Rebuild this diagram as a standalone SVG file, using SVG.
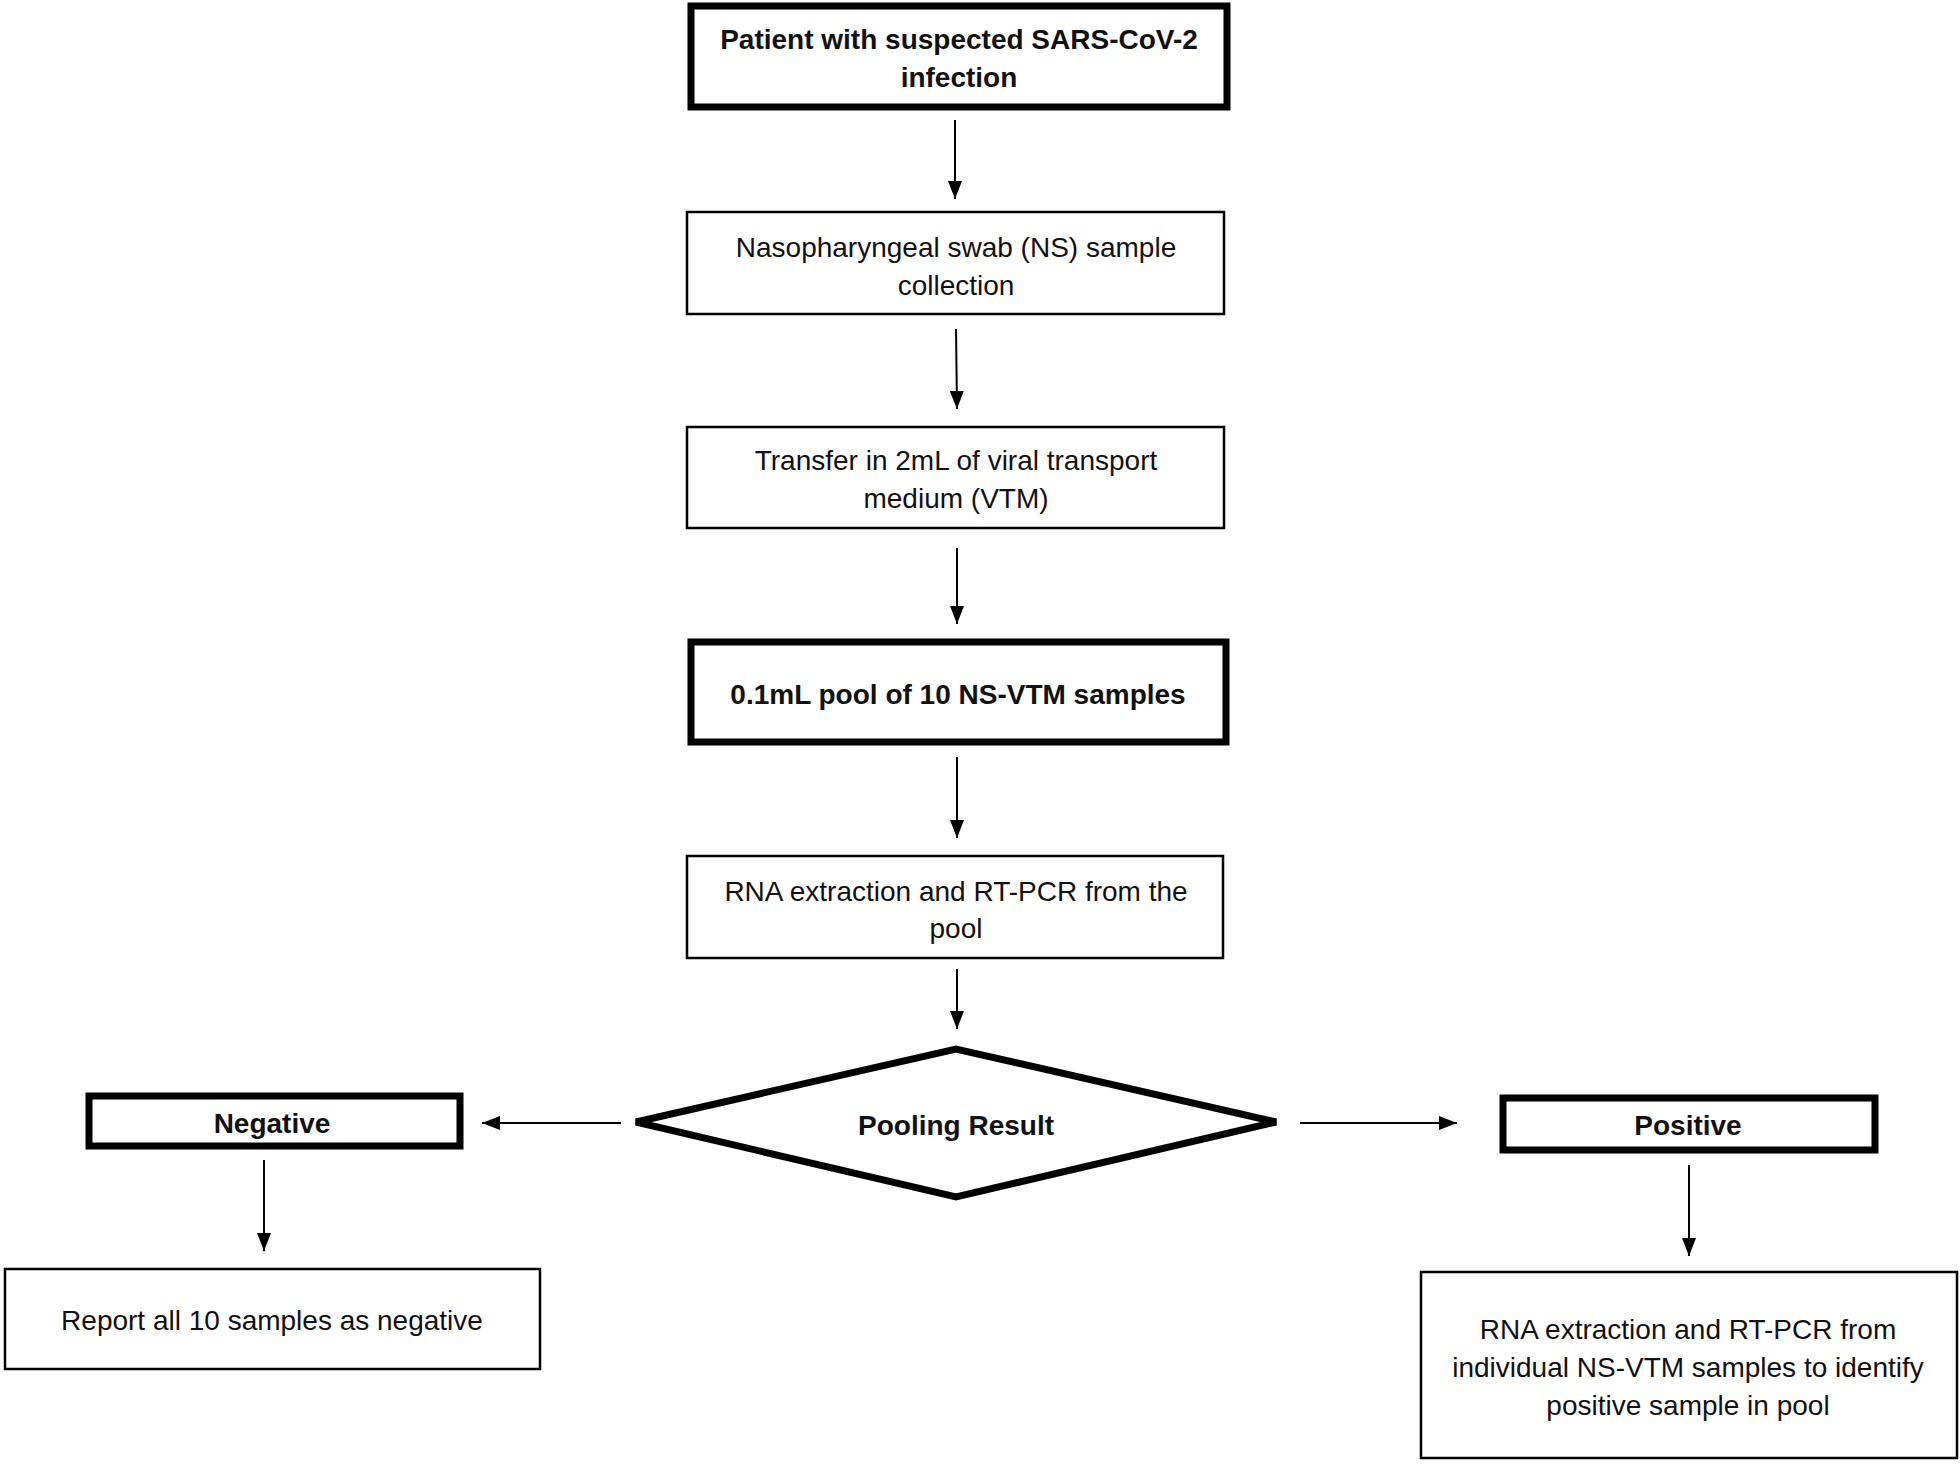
<svg xmlns="http://www.w3.org/2000/svg" width="1960" height="1464" viewBox="0 0 1960 1464">
<defs>
<marker id="ah" markerWidth="18" markerHeight="14" refX="18" refY="7" orient="auto" markerUnits="userSpaceOnUse" viewBox="0 0 18 14">
<path d="M0,0 L18,7 L0,14 Z" fill="#000"/>
</marker>
<style>
.thin{fill:#fff;stroke:#000;stroke-width:2.5}
.thick{fill:#fff;stroke:#000;stroke-width:7}
.t{font-family:"Liberation Sans",Arial,sans-serif;font-size:28px;fill:#111;text-anchor:middle}
.b{font-weight:bold}
.c{stroke:#000;stroke-width:2;fill:none;marker-end:url(#ah)}
</style>
</defs>
<rect width="1960" height="1464" fill="#fff"/>
<g id="n1">
<rect class="thick" x="691" y="6" width="536" height="101"/>
<text class="t b" x="959" y="49">Patient with suspected SARS-CoV-2</text>
<text class="t b" x="959" y="87">infection</text>
</g>
<g id="n2">
<rect class="thin" x="687" y="212" width="537" height="102"/>
<text class="t" x="956" y="257">Nasopharyngeal swab (NS) sample</text>
<text class="t" x="956" y="295">collection</text>
</g>
<g id="n3">
<rect class="thin" x="687" y="427" width="537" height="101"/>
<text class="t" x="956" y="470">Transfer in 2mL of viral transport</text>
<text class="t" x="956" y="508">medium  (VTM)</text>
</g>
<g id="n4">
<rect class="thick" x="691" y="642" width="535" height="100"/>
<text class="t b" x="958" y="704">0.1mL pool of 10 NS-VTM samples</text>
</g>
<g id="n5">
<rect class="thin" x="687" y="856" width="536" height="102"/>
<text class="t" x="956" y="901">RNA  extraction and RT-PCR  from the</text>
<text class="t" x="956" y="938">pool</text>
</g>
<g id="n6">
<polygon points="636,1122 956,1049 1276,1122 956,1197" fill="#fff" stroke="#000" stroke-width="7" stroke-linejoin="miter"/>
<text class="t b" x="956" y="1135">Pooling Result</text>
</g>
<g id="n7">
<rect class="thick" x="89" y="1096" width="371" height="50"/>
<text class="t b" x="272" y="1133">Negative</text>
</g>
<g id="n8">
<rect class="thick" x="1503" y="1098" width="372" height="52"/>
<text class="t b" x="1688" y="1135">Positive</text>
</g>
<g id="n9">
<rect class="thin" x="5" y="1269" width="535" height="100"/>
<text class="t" x="272" y="1330">Report all 10 samples as negative</text>
</g>
<g id="n10">
<rect class="thin" x="1421" y="1272" width="536" height="186"/>
<text class="t" x="1688" y="1339">RNA  extraction and RT-PCR  from</text>
<text class="t" x="1688" y="1377">individual NS-VTM  samples to identify</text>
<text class="t" x="1688" y="1415">positive sample in pool</text>
</g>
<g id="connectors">
<line class="c" x1="955" y1="120" x2="955" y2="199"/>
<line class="c" x1="956" y1="329" x2="957" y2="409"/>
<line class="c" x1="957" y1="548" x2="957" y2="624"/>
<line class="c" x1="957" y1="757" x2="957" y2="838"/>
<line class="c" x1="957" y1="969" x2="957" y2="1029"/>
<line class="c" x1="621" y1="1123" x2="482" y2="1123"/>
<line class="c" x1="1300" y1="1123" x2="1457" y2="1123"/>
<line class="c" x1="264" y1="1160" x2="264" y2="1251"/>
<line class="c" x1="1689" y1="1165" x2="1689" y2="1256"/>
</g>
</svg>
